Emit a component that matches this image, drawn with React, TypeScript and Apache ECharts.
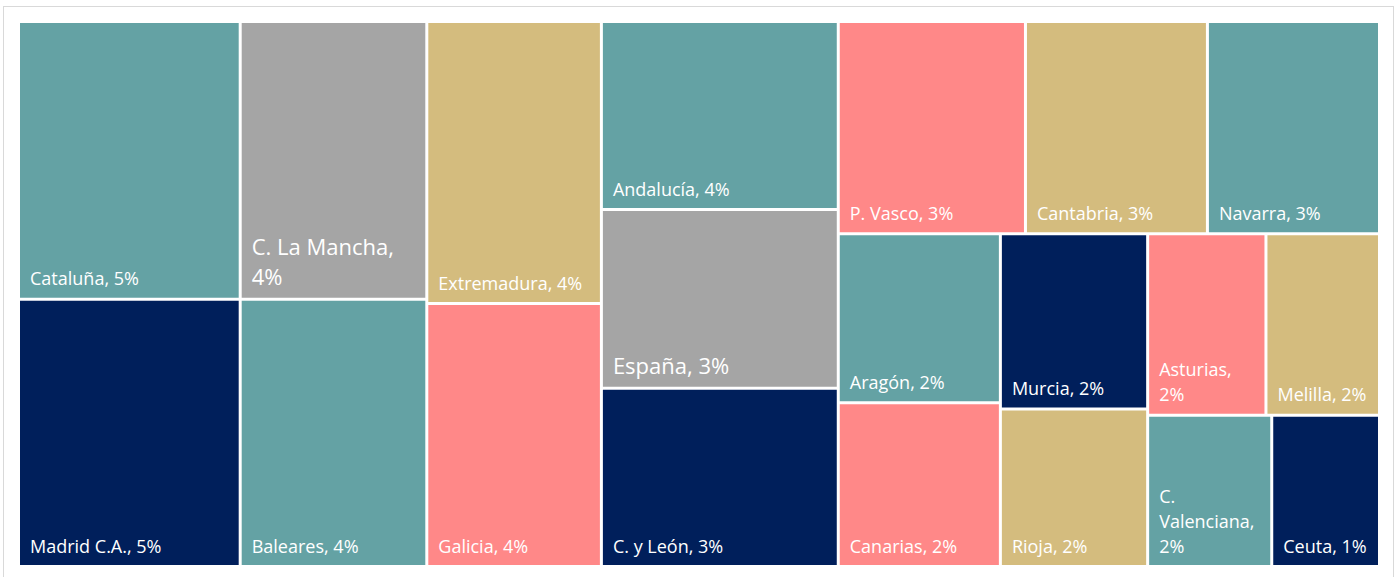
import React, { useEffect, useRef } from "react";
import * as echarts from "echarts";

const regions = [
  "Cataluña", "Madrid C.A.", "C. La Mancha", "Baleares", "Extremadura", "Galicia",
  "Andalucía", "España", "C. y León", "P. Vasco", "Cantabria", "Navarra",
  "Aragón", "Canarias", "Murcia", "Rioja", "Asturias", "Melilla", "C. Valenciana", "Ceuta",
];
const shares = [
  4.99, 4.8, 4.2, 4.04, 3.99, 3.72,
  3.61, 3.43, 3.42, 3.22, 3.13, 2.96,
  2.22, 2.15, 2.09, 1.88, 1.74, 1.67, 1.52, 1.32,
];
const TEAL = "#64A2A4";
const GRAY = "#A5A5A5";
const GOLD = "#D4BC7E";
const SALMON = "#FF8888";
const NAVY = "#001F5B";
const colors = [
  TEAL, NAVY, GRAY, TEAL, GOLD, SALMON,
  TEAL, GRAY, NAVY, SALMON, GOLD, TEAL,
  TEAL, SALMON, NAVY, GOLD, SALMON, GOLD, TEAL, NAVY,
];
const emphasized = ["C. La Mancha", "España"];
const valueOnNewLine = ["C. La Mancha"];

export default function App() {
  const ref = useRef<HTMLDivElement>(null);
  useEffect(() => {
    if (!ref.current) return;
    const chart = echarts.init(ref.current, undefined, { renderer: "svg" });
    const data = regions.map((name, i) => {
      const item: any = {
        name,
        value: shares[i],
        itemStyle: { color: colors[i] },
      };
      if (emphasized.includes(name)) {
        item.label = { fontSize: 22, lineHeight: 30 };
      }
      return item;
    });
    chart.setOption({
      animation: false,
      tooltip: { show: false },
      series: [
        {
          type: "treemap",
          left: 20,
          top: 23,
          width: 1358,
          height: 542,
          roam: false,
          nodeClick: false,
          breadcrumb: { show: false },
          squareRatio: 0.9,
          sort: "desc",
          levels: [{ itemStyle: { gapWidth: 3, borderWidth: 0 } }],
          itemStyle: { borderWidth: 0 },
          label: {
            show: true,
            position: "insideBottomLeft",
            distance: 0,
            padding: [0, 6, 7, 10],
            fontFamily: "Open Sans",
            fontSize: 18,
            lineHeight: 25,
            color: "#ffffff",
            overflow: "break",
            formatter: (p: any) =>
              `${p.name},${valueOnNewLine.includes(p.name) ? "\n" : " "}${Math.round(p.value)}%`,
          },
          emphasis: { disabled: true },
          data,
        },
      ],
    });
    return () => chart.dispose();
  }, []);
  return (
    <div style={{ position: "absolute", left: 0, top: 0, width: 1398, height: 577, background: "#fff", overflow: "hidden" }}>
      <div
        style={{
          position: "absolute",
          left: 3,
          top: 6,
          width: 1391,
          height: 590,
          border: "1px solid #d9d9d9",
          boxSizing: "border-box",
        }}
      />
      <div ref={ref} style={{ position: "absolute", left: 0, top: 0, width: 1398, height: 577 }} />
    </div>
  );
}
